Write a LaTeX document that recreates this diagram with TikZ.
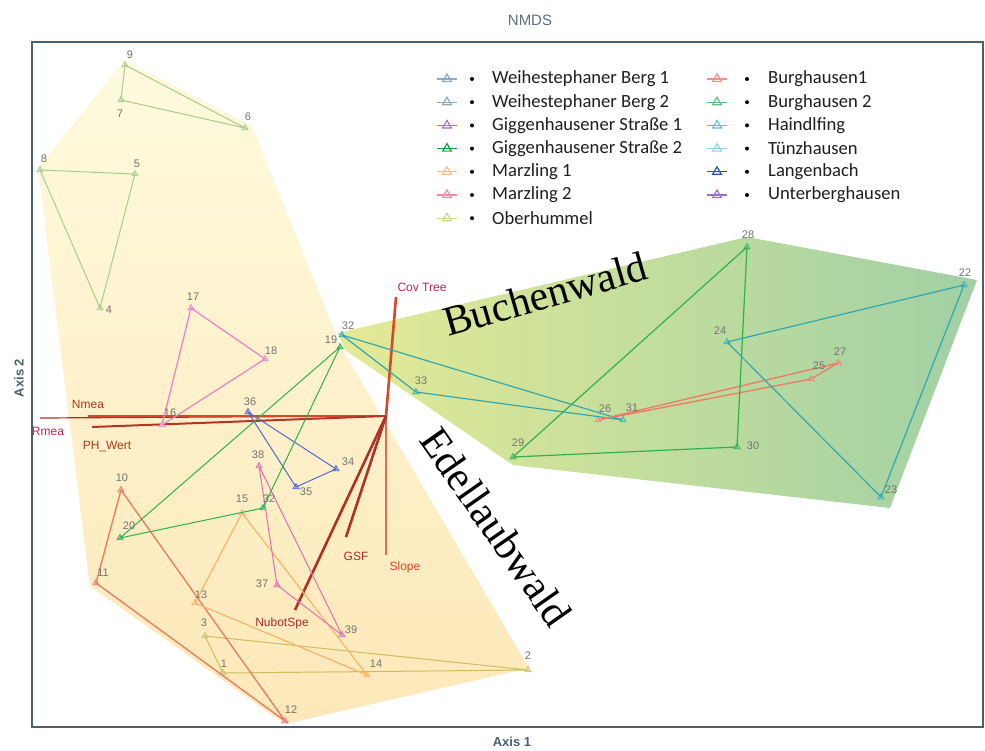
\documentclass[tikz,border=0pt]{standalone}
\usepackage{fontspec}
\setmainfont{Liberation Serif}
\newfontfamily\legf{Carlito}
\newfontfamily\sansf{Liberation Sans}
\usetikzlibrary{shapes.geometric}
\definecolor{obh}{HTML}{A8CC90}
\definecolor{olv}{HTML}{C8C060}
\definecolor{sal}{HTML}{E88068}
\definecolor{org}{HTML}{F8B468}
\definecolor{pnk}{HTML}{E888C8}
\definecolor{mag}{HTML}{E070B0}
\definecolor{blu}{HTML}{5868D0}
\definecolor{grn}{HTML}{30B050}
\definecolor{tea}{HTML}{30A8B0}
\definecolor{vec}{HTML}{D84828}
\definecolor{vecd}{HTML}{A83028}
\definecolor{frm}{HTML}{4A6070}
\definecolor{wb}{HTML}{90A8C0}
\definecolor{gs1}{HTML}{B070C8}
\definecolor{gs2}{HTML}{10A040}
\definecolor{mz1}{HTML}{F8C090}
\definecolor{mz2}{HTML}{E890A8}
\definecolor{obl}{HTML}{C8D890}
\definecolor{bh1}{HTML}{F09090}
\definecolor{bh2}{HTML}{60C080}
\definecolor{hdf}{HTML}{60C0E0}
\definecolor{tzh}{HTML}{90D0E8}
\definecolor{lgb}{HTML}{3050C0}
\definecolor{ubh}{HTML}{A070C0}
\begin{document}
\begin{tikzpicture}[x=1pt,y=-1pt,
  mk/.style={regular polygon,regular polygon sides=3,draw=#1,fill=#1!40,inner sep=0pt,minimum size=7pt,line width=0.7pt},
  lab/.style={font=\sansf\fontsize{11}{11}\selectfont,text=black!55,inner sep=0pt},
  ln/.style={draw=#1,line width=1pt},
  vline/.style={draw=vec,line width=2.6pt},
  vlab/.style={font=\sansf\fontsize{12}{12}\selectfont,text=vecd,inner sep=0pt},
  ltxt/.style={font=\legf\fontsize{18.6}{18.6}\selectfont,text=black!88,anchor=west,inner sep=0pt},
  lmk/.style={regular polygon,regular polygon sides=3,draw=#1,line width=1.2pt,inner sep=0pt,minimum size=10pt},
  bul/.style={circle,fill=black,inner sep=0pt,minimum size=4pt},
  big/.style={font=\fontsize{42}{42}\selectfont,inner sep=0pt}]
\useasboundingbox (0,0) rectangle (985,750);
\fill[white] (0,0) rectangle (985,750);
% hulls
\shade[top color={rgb,255:red,254;green,250;blue,222}, bottom color={rgb,255:red,253;green,232;blue,184}]
  (125,60) -- (252,126) -- (340,345) -- (529,668) -- (285,724) -- (90,586) -- (38,168) -- cycle;
\shade[left color={rgb,255:red,228;green,234;blue,150}, right color={rgb,255:red,160;green,208;blue,164}]
  (338,333) -- (747,237) -- (977,280) -- (890,508) -- (513,465) -- (345,350) -- cycle;
% frame
\draw[frm,line width=2.5pt] (32,42) rectangle (983,727);
\node[font=\sansf\fontsize{15}{15}\selectfont,text=frm!90] (title) at (530,20) {NMDS};
\node[font=\sansf\bfseries\fontsize{13}{13}\selectfont,text=frm] (ax1) at (512,742) {Axis 1};
\node[font=\sansf\bfseries\fontsize{13}{13}\selectfont,text=frm,rotate=90] (ax2) at (19,378) {Axis 2};
% vectors
\coordinate (vo) at (386,416);
\coordinate (vcov) at (396,297);
\coordinate (vslope) at (386,555);
\coordinate (vgsf) at (346,537);
\coordinate (vnub) at (295,610);
\coordinate (vrmea) at (40,418);
\coordinate (vnmea) at (88,416);
\coordinate (vph) at (92,427);
\draw[vecd,line width=1.2pt] (vo) -- (vrmea);
\draw[vline] (vo) -- (vnmea);
\draw[vline,draw=vecd!80!vec,line width=2pt] (vo) -- (vph);
\draw[vline] (vo) -- (vcov);
\draw[vline,draw=vec!80!white] (vo) -- (vslope);
\draw[vline,draw=vecd!90!vec] (vo) -- (vgsf);
\draw[vline,draw=vecd!90!vec] (vo) -- (vnub);
\node[vlab,text=vecd!80!magenta] (tcov) at (422,287) {Cov Tree};
\node[vlab,text=vec!80!black] (tnmea) at (88,404) {Nmea};
\node[vlab,text=vecd!80!magenta] (trmea) at (48,431) {Rmea};
\node[vlab,text=vec!80!black] (tph) at (107,447) {PH\_Wert};
\node[vlab] (tgsf) at (356,556) {GSF};
\node[vlab,text=vec] (tslope) at (405,567) {Slope};
\node[vlab] (tnub) at (282,623) {NubotSpe};
% points
\node[mk=obh] (p9) at (125,65) {};
\node[mk=obh] (p7) at (121,100) {};
\node[mk=obh] (p6) at (245,128) {};
\node[mk=obh] (p8) at (40,170) {};
\node[mk=obh] (p5) at (135,174) {};
\node[mk=obh] (p4) at (100,308) {};
\node[mk=olv] (p3) at (205,636) {};
\node[mk=olv] (p1) at (223,673) {};
\node[mk=olv] (p2) at (528,670) {};
\node[mk=sal] (p10) at (121,490) {};
\node[mk=sal] (p11) at (96,583) {};
\node[mk=mag] (p12) at (285,721) {};
\node[mk=org] (p15) at (242,513) {};
\node[mk=org] (p13) at (195,603) {};
\node[mk=org] (p14) at (367,675) {};
\node[mk=pnk] (p17) at (191,308) {};
\node[mk=pnk] (p18) at (265,359) {};
\node[mk=pnk] (p16) at (162,425) {};
\node[mk=mag] (p38) at (259,466) {};
\node[mk=mag] (p37) at (277,585) {};
\node[mk=mag] (p39) at (342,635) {};
\node[mk=blu] (p36) at (248,412) {};
\node[mk=blu] (p35) at (296,487) {};
\node[mk=blu] (p34) at (336,469) {};
\node[mk=grn] (p19) at (340,347) {};
\node[mk=grn] (p20) at (120,538) {};
\node[mk=grn] (p21) at (263,508) {};
\node[mk=tea] (p32) at (342,335) {};
\node[mk=tea] (p33) at (416,392) {};
\node[mk=tea] (p31) at (623,420) {};
\node[mk=sal] (p26) at (598,420) {};
\node[mk=sal] (p25) at (811,379) {};
\node[mk=sal] (p27) at (838,363) {};
\node[mk=grn] (p28) at (747,247) {};
\node[mk=grn] (p29) at (513,457) {};
\node[mk=grn] (p30) at (737,447) {};
\node[mk=tea] (p22) at (964,285) {};
\node[mk=tea] (p24) at (727,342) {};
\node[mk=tea] (p23) at (881,497) {};
% connectors
\draw[ln=obh] (p9.center) -- (p7.center) -- (p6.center) -- cycle;
\draw[ln=obh] (p8.center) -- (p5.center) -- (p4.center) -- cycle;
\draw[ln=olv] (p3.center) -- (p1.center) -- (p2.center) -- cycle;
\draw[ln=sal,line width=1.4pt] (p10.center) -- (p11.center) -- (p12.center) -- cycle;
\draw[ln=org,line width=1.2pt] (p15.center) -- (p13.center) -- (p14.center) -- cycle;
\draw[ln=pnk,line width=1.3pt] (p17.center) -- (p18.center) -- (p16.center) -- cycle;
\draw[ln=mag] (p38.center) -- (p37.center) -- (p39.center) -- cycle;
\draw[ln=blu] (p36.center) -- (p35.center) -- (p34.center) -- cycle;
\draw[ln=grn] (p19.center) -- (p20.center) -- (p21.center) -- cycle;
\draw[ln=tea,line width=1.2pt] (p32.center) -- (p33.center) -- (p31.center) -- cycle;
\draw[ln=sal,line width=1.4pt] (p26.center) -- (p27.center) -- (p25.center) -- cycle;
\draw[ln=grn,line width=1.2pt] (p28.center) -- (p29.center) -- (p30.center) -- cycle;
\draw[ln=tea,line width=1.2pt] (p24.center) -- (p22.center) -- (p23.center) -- cycle;
% point labels
\node[lab] (l9) at (130,55) {9};
\node[lab] (l7) at (120,114) {7};
\node[lab] (l6) at (248,117) {6};
\node[lab] (l8) at (44,159) {8};
\node[lab] (l5) at (137,164) {5};
\node[lab] (l4) at (109,310) {4};
\node[lab] (l17) at (193,297) {17};
\node[lab] (l18) at (271,351) {18};
\node[lab] (l16) at (170,413) {16};
\node[lab] (l36) at (250,402) {36};
\node[lab] (l19) at (331,340) {19};
\node[lab] (l32) at (348,326) {32};
\node[lab] (l33) at (421,381) {33};
\node[lab] (l26) at (605,409) {26};
\node[lab] (l31) at (632,408) {31};
\node[lab] (l29) at (518,443) {29};
\node[lab] (l30) at (753,446) {30};
\node[lab] (l28) at (748,235) {28};
\node[lab] (l22) at (965,273) {22};
\node[lab] (l24) at (720,331) {24};
\node[lab] (l25) at (819,366) {25};
\node[lab] (l27) at (840,352) {27};
\node[lab] (l23) at (891,490) {23};
\node[lab] (l10) at (122,478) {10};
\node[lab] (l20) at (129,526) {20};
\node[lab] (l15) at (242,499) {15};
\node[lab] (l21) at (269,499) {32};
\node[lab] (l38) at (258,455) {38};
\node[lab] (l35) at (306,492) {35};
\node[lab] (l34) at (348,462) {34};
\node[lab] (l37) at (262,584) {37};
\node[lab] (l11) at (103,573) {11};
\node[lab] (l13) at (201,595) {13};
\node[lab] (l3) at (204,623) {3};
\node[lab] (l1) at (224,664) {1};
\node[lab] (l12) at (291,710) {12};
\node[lab] (l39) at (351,630) {39};
\node[lab] (l14) at (376,664) {14};
\node[lab] (l2) at (528,656) {2};
% forest labels
\node[big,rotate=16] (buchen) at (545,294) {Buchenwald};
\node[big,rotate=-55] (edel) at (496,527) {Edellaubwald};
% legend
\foreach \c/\t [count=\i] in {wb/Weihestephaner Berg 1, wb/Weihestephaner Berg 2, gs1/Giggenhausener Straße 1, gs2/Giggenhausener Straße 2, mz1/Marzling 1, mz2/Marzling 2, obl/Oberhummel}{
  \pgfmathsetmacro\yy{79+(\i-1)*23.2}
  \draw[\c,line width=1.2pt] (437,\yy) -- (457,\yy);
  \node[lmk=\c] (la\i) at (447,\yy) {};
  \node[bul] (lb\i) at (472,\yy) {};
  \node[ltxt] (lt\i) at (492,\yy) {\t};
}
\foreach \c/\t [count=\i] in {bh1/Burghausen1, bh2/Burghausen 2, hdf/Haindlfing, tzh/Tünzhausen, lgb/Langenbach, ubh/Unterberghausen}{
  \pgfmathsetmacro\yy{79+(\i-1)*23.2}
  \draw[\c,line width=1.2pt] (707,\yy) -- (727,\yy);
  \node[lmk=\c] (lc\i) at (717,\yy) {};
  \node[bul] (ld\i) at (747,\yy) {};
  \node[ltxt] (le\i) at (768,\yy) {\t};
}
\end{tikzpicture}
\end{document}
